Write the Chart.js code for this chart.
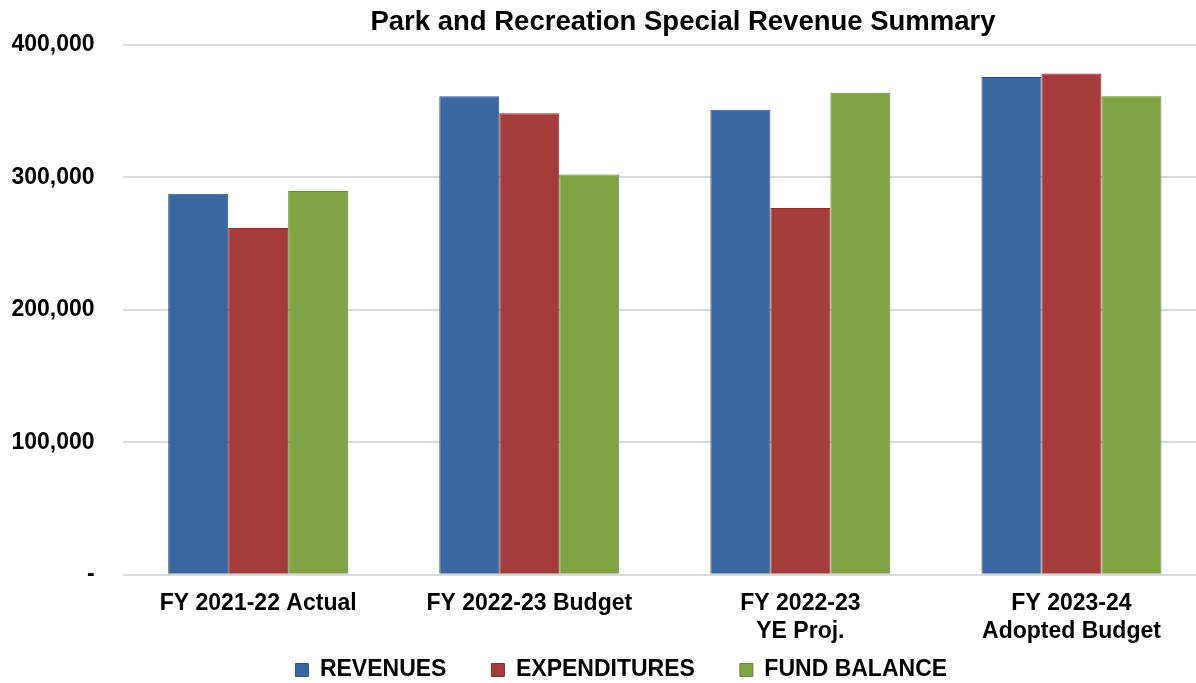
<!DOCTYPE html>
<html>
<head>
<meta charset="utf-8">
<script src="https://cdn.jsdelivr.net/npm/chart.js@4.4.0/dist/chart.umd.min.js"></script>
<style>
  html, body { margin: 0; padding: 0; background: #fff; overflow: hidden; }
  #wrap { width: 1196px; height: 683px; overflow: hidden; }
</style>
</head>
<body>
<div id="wrap"><canvas id="revChart" width="1207" height="723"></canvas></div>
<script>
'use strict'

const chartTitle = 'Park and Recreation Special Revenue Summary';
const categories = ['FY 2021-22 Actual', 'FY 2022-23 Budget', ['FY 2022-23', 'YE Proj.'], ['FY 2023-24', 'Adopted Budget']];
const revenues = [287700, 361300, 351200, 375900];
const expenditures = [261800, 348400, 276900, 378500];
const fundBalance = [289800, 302300, 363900, 361300];
const yTicks = [0, 100000, 200000, 300000, 400000];

const fontFamily = '"Liberation Sans", Arial, sans-serif';

// title drawn by hand so it can sit off-centre like the original
const titlePlugin = {
  id: 'titleText',
  afterDraw(chart) {
    const c = chart.ctx;
    c.save();
    c.font = 'bold 27.5px ' + fontFamily;
    c.fillStyle = '#000';
    c.textAlign = 'center';
    c.textBaseline = 'alphabetic';
    c.fillText(chartTitle, 683, 30);
    c.restore();
  }
};

// move the legend a bit: wide item gaps but sitting close under the axis labels
const legendNudge = {
  id: 'legendNudge',
  afterLayout(chart) {
    const lg = chart.legend;
    const dy = 670 - (lg.top + lg.options.labels.padding + 11.5);
    const dx = 12;
    lg.top += dy; lg.bottom += dy;
    lg.left += dx; lg.right += dx;
  }
};

const ctx = document.getElementById('revChart');

new Chart(ctx, {
  type: 'bar',
  data: {
    labels: categories,
    datasets: [{
      label: 'REVENUES',
      data: revenues,
      backgroundColor: '#3B67A1',
      borderColor: '#2E5283',
      borderWidth: 1,
    }, {
      label: 'EXPENDITURES',
      data: expenditures,
      backgroundColor: '#A43C3C',
      borderColor: '#862E2E',
      borderWidth: 1,
    }, {
      label: 'FUND BALANCE',
      data: fundBalance,
      backgroundColor: '#80A343',
      borderColor: '#668635',
      borderWidth: 1,
    }]
  },
  options: {
    responsive: false,
    animation: false,
    devicePixelRatio: 1,
    layout: {
      padding: { top: 45, left: 11.5, right: 0, bottom: 0 }
    },
    datasets: {
      bar: {
        categoryPercentage: 0.664,
        barPercentage: 1.0,
      }
    },
    scales: {
      x: {
        grid: { display: false, drawTicks: false },
        border: { display: false },
        ticks: {
          color: '#000',
          padding: 15,
          maxRotation: 0,
          autoSkip: false,
          font: { family: fontFamily, size: 23, weight: 'bold' }
        },
        // tick padding is counted twice by default; long first label should not push the plot right
        afterFit: (scale) => {
          scale.height -= scale.options.ticks.padding;
          scale.paddingLeft = 0;
          scale.paddingRight = 0;
        }
      },
      y: {
        min: 0,
        max: 400000,
        afterBuildTicks: (scale) => { scale.ticks = yTicks.map(v => ({ value: v })); },
        grid: { color: '#D9D9D9', lineWidth: 2, drawTicks: false },
        border: { display: false },
        ticks: {
          color: '#000',
          padding: 28,
          font: { family: fontFamily, size: 23, weight: 'bold' },
          callback: (v) => v === 0 ? '-' : v.toLocaleString('en-US')
        },
        afterFit: (scale) => { scale.width -= scale.options.ticks.padding; }
      }
    },
    plugins: {
      title: { display: false },
      tooltip: { enabled: false },
      legend: {
        position: 'bottom',
        labels: {
          color: '#000',
          boxWidth: 13,
          boxHeight: 13,
          padding: 45,
          font: { family: fontFamily, size: 23, weight: 'bold' }
        }
      }
    }
  },
  plugins: [titlePlugin, legendNudge]
});
</script>
</body>
</html>
